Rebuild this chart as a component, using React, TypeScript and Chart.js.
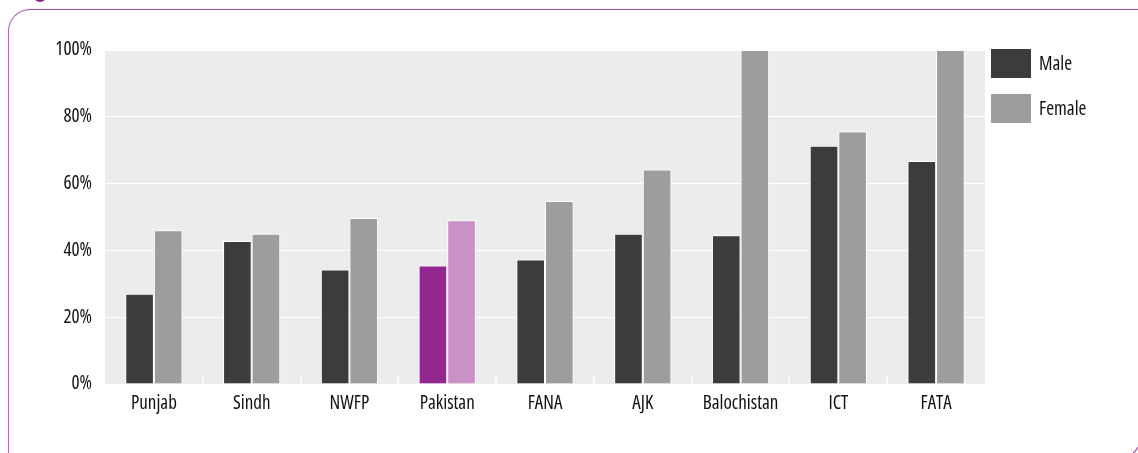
import React, { useEffect, useRef } from "react";
import { Chart, registerables } from "chart.js";

Chart.register(...registerables);

const categories = ["Punjab", "Sindh", "NWFP", "Pakistan", "FANA", "AJK", "Balochistan", "ICT", "FATA"];
const maleValues = [27, 42.8, 34.3, 35.5, 37.3, 45, 44.5, 71.3, 66.8];
const femaleValues = [46, 45, 49.7, 49, 54.8, 64.2, 100, 75.6, 100];
const yTicks = [0, 20, 40, 60, 80, 100];
const seriesLabels = ["Male", "Female"];

const MALE = "#3c3c3b";
const FEMALE = "#9d9d9c";
const PAK_MALE = "#92278f";
const PAK_FEMALE = "#c991c5";
const FONT = "'Open Sans', 'DejaVu Sans Condensed', sans-serif";
const FSIZE = 19;

const bgPlugin = {
  id: "bgPlugin",
  beforeDraw(chart: any) {
    const { ctx, chartArea } = chart;
    ctx.fontStretch = "condensed";
    ctx.save();
    ctx.fillStyle = "#ececec";
    ctx.fillRect(chartArea.left, chartArea.top, chartArea.right - chartArea.left, chartArea.bottom - chartArea.top);
    ctx.restore();
  },
  afterDatasetsDraw(chart: any) {
    const { ctx, chartArea } = chart;
    const x = chart.scales.x;
    ctx.save();
    ctx.strokeStyle = "#ffffff";
    ctx.lineWidth = 1.5;
    for (let i = 0; i < categories.length - 1; i++) {
      const px = Math.round((x.getPixelForTick(i) + x.getPixelForTick(i + 1)) / 2);
      ctx.beginPath();
      ctx.moveTo(px, chartArea.bottom);
      ctx.lineTo(px, chartArea.bottom - 8);
      ctx.stroke();
    }
    ctx.restore();
  },
  afterDraw(chart: any) {
    const { ctx, chartArea } = chart;
    ctx.save();
    const bx = chartArea.right + 6;
    let by = chartArea.top - 1;
    chart.data.datasets.forEach((ds: any) => {
      ctx.fillStyle = ds.legendColor;
      ctx.fillRect(bx, by, 40, 29);
      ctx.fillStyle = "#111111";
      ctx.font = FSIZE + "px " + FONT;
      ctx.fontStretch = "condensed";
      ctx.textBaseline = "middle";
      ctx.textAlign = "left";
      ctx.fillText(ds.label, bx + 48, by + 16);
      by += 45;
    });
    ctx.restore();
  },
};

export default function App() {
  const ref = useRef<HTMLCanvasElement | null>(null);
  useEffect(() => {
    if (!ref.current) return;
    const chart = new Chart(ref.current, {
      type: "bar",
      data: {
        labels: categories,
        datasets: [
          {
            label: seriesLabels[0],
            data: maleValues,
            backgroundColor: categories.map((c) => (c === "Pakistan" ? PAK_MALE : MALE)),
            borderColor: "#ffffff",
            borderWidth: 1,
            legendColor: MALE,
          } as any,
          {
            label: seriesLabels[1],
            data: femaleValues,
            backgroundColor: categories.map((c) => (c === "Pakistan" ? PAK_FEMALE : FEMALE)),
            borderColor: "#ffffff",
            borderWidth: 1,
            legendColor: FEMALE,
          } as any,
        ],
      },
      options: {
        responsive: false,
        animation: false,
        layout: { padding: { left: 0, top: 50, right: 153, bottom: 0 } },
        plugins: { legend: { display: false }, tooltip: { enabled: false } },
        datasets: { bar: { categoryPercentage: 0.585, barPercentage: 1 } },
        scales: {
          x: {
            grid: { display: false },
            border: { display: false },
            ticks: { color: "#111111", font: { family: FONT, size: FSIZE }, padding: 0, maxRotation: 0, autoSkip: false },
            afterFit: (s: any) => {
              s.height = 69;
            },
          },
          y: {
            min: 0,
            max: 100,
            afterBuildTicks: (s: any) => {
              s.ticks = yTicks.map((v) => ({ value: v }));
            },
            grid: { color: "#ffffff", lineWidth: 1, drawTicks: false },
            border: { display: false },
            ticks: {
              color: "#111111",
              font: { family: FONT, size: FSIZE },
              padding: 13,
              callback: (v: any) => v + "%",
            },
            afterFit: (s: any) => {
              s.width = 105;
            },
          },
        },
      },
      plugins: [bgPlugin],
    });
    return () => chart.destroy();
  }, []);

  return (
    <div style={{ position: "absolute", left: 0, top: 0, width: 1138, height: 453, overflow: "hidden", background: "#fff" }}>
      <div
        style={{
          position: "absolute",
          left: 33,
          top: -12,
          width: 14,
          height: 14,
          borderRadius: "50%",
          background: "#93278f",
        }}
      />
      <div
        style={{
          position: "absolute",
          left: 8,
          top: 9,
          width: 1200,
          height: 600,
          borderTop: "1.5px solid #a34ca6",
          borderLeft: "1.5px solid #b866b8",
          borderTopLeftRadius: 22,
          boxSizing: "border-box",
        }}
      />
      <svg style={{ position: "absolute", left: 0, top: 0 }} width={1138} height={453}>
        <path d="M1133 453 Q1136 451 1138 447" stroke="#a34ca6" strokeWidth={1.2} fill="none" />
      </svg>
      <canvas ref={ref} width={1138} height={453} style={{ position: "absolute", left: 0, top: 0 }} />
    </div>
  );
}
